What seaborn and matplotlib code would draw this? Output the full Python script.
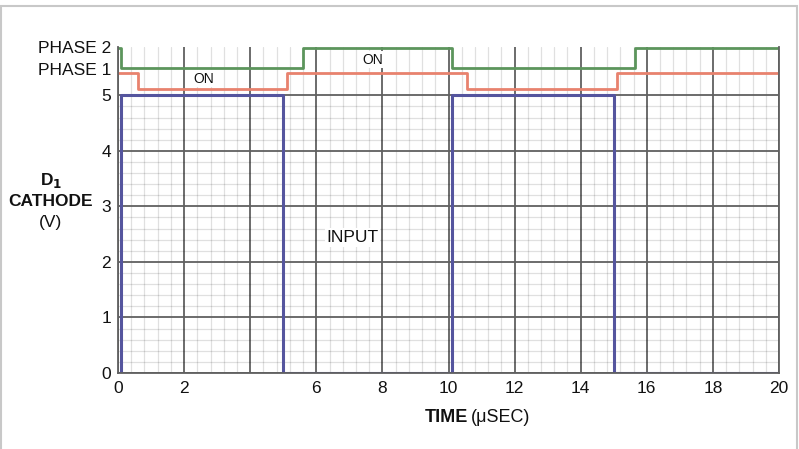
import matplotlib
matplotlib.use("Agg")
import matplotlib.pyplot as plt
import matplotlib.patches as mpatches
from matplotlib.ticker import FixedLocator, MultipleLocator
import seaborn as sns
import pandas as pd

# ---- data ----
input_t = [0, 0.1, 5.0, 10.1, 15.0, 20]
input_v = [0, 5, 0, 5, 0, 0]

phase1_t = [0, 0.6, 5.1, 10.55, 15.1, 20]
phase1_v = [5.41, 5.11, 5.41, 5.11, 5.41, 5.41]

phase2_t = [0, 0.1, 5.6, 10.1, 15.65, 20]
phase2_v = [5.85, 5.5, 5.85, 5.5, 5.85, 5.85]

x_ticks = [0, 2, 4, 6, 8, 10, 12, 14, 16, 18, 20]
x_labels = ["0", "2", "", "6", "8", "10", "12", "14", "16", "18", "20"]
y_ticks = [0, 1, 2, 3, 4, 5]

sns.set_theme(style="white")
plt.rcParams['font.family'] = ['Liberation Sans', 'DejaVu Sans']

fig = plt.figure(figsize=(7.99, 4.49), dpi=100)
# outer light frame
fig.patches.append(mpatches.Rectangle((1/799, -0.01), 796/799, 1 - 6/449 + 0.01,
                                      transform=fig.transFigure, fill=False,
                                      edgecolor="#c8c8c8", linewidth=1.5))
ax = fig.add_axes([118/799, 1 - 373/449, (779 - 118)/799, (373 - 47)/449])

ax.set_xlim(0, 20)
ax.set_ylim(0, 5.87)

# grid
ax.xaxis.set_major_locator(FixedLocator(x_ticks))
ax.xaxis.set_minor_locator(MultipleLocator(0.4))
ax.yaxis.set_major_locator(FixedLocator(y_ticks))
ax.yaxis.set_minor_locator(FixedLocator([i * 0.2 for i in range(26) if i % 5]))
ax.grid(which="major", axis="both", color="#606060", linewidth=1.3)
ax.grid(which="minor", axis="both", color="black", alpha=0.12, linewidth=0.9)
ax.set_axisbelow(True)

df_in = pd.DataFrame({"t": input_t, "v": input_v})
df_p1 = pd.DataFrame({"t": phase1_t, "v": phase1_v})
df_p2 = pd.DataFrame({"t": phase2_t, "v": phase2_v})

sns.lineplot(data=df_p2, x="t", y="v", ax=ax, color="#5c955c", linewidth=2,
             drawstyle="steps-post", estimator=None, sort=False)
sns.lineplot(data=df_p1, x="t", y="v", ax=ax, color="#e8826e", linewidth=2,
             drawstyle="steps-post", estimator=None, sort=False)
sns.lineplot(data=df_in, x="t", y="v", ax=ax, color="#55559e", linewidth=2.2,
             drawstyle="steps-post", estimator=None, sort=False)

# ticks
ax.set_xticklabels(x_labels)
ax.set_yticklabels([str(t) for t in y_ticks])
ax.tick_params(axis="both", which="both", length=0, labelsize=12.5, colors="#111111")
ax.tick_params(axis="x", pad=6)
ax.tick_params(axis="y", pad=5)
ax.set_xlabel("")
ax.set_ylabel("")

for s in ["left", "bottom", "right"]:
    ax.spines[s].set_color("#606060")
    ax.spines[s].set_linewidth(1.3)
ax.spines["top"].set_visible(False)

# phase labels
ax.text(-0.2, 5.85, "PHASE 2", ha="right", va="center", fontsize=12.5, color="#111111")
ax.text(-0.2, 5.45, "PHASE 1", ha="right", va="center", fontsize=12.5, color="#111111")

# on labels
box = dict(boxstyle="square,pad=0.1", facecolor="white", edgecolor="none")
ax.text(2.6, 5.30, "ON", ha="center", va="center", fontsize=10, color="#111111", bbox=box)
ax.text(7.7, 5.64, "ON", ha="center", va="center", fontsize=10, color="#111111", bbox=box)
ax.text(7.1, 2.44, "INPUT", ha="center", va="center", fontsize=12.5, color="#111111",
        bbox=dict(boxstyle="square,pad=0.1", facecolor="white", edgecolor="none"))

# axis titles
fig.text(51/799, 1 - 181/449, "D$_\\mathbf{1}$", ha="center", va="center",
         fontsize=12.5, fontweight="bold", color="#111111")
fig.text(51/799, 1 - 201/449, "CATHODE", ha="center", va="center",
         fontsize=12.5, fontweight="bold", color="#111111")
fig.text(51/799, 1 - 222/449, "(V)", ha="center", va="center",
         fontsize=12.5, color="#111111")

fig.text(468/799, 1 - 417/449, "TIME", ha="right", va="center",
         fontsize=13, fontweight="bold", color="#111111")
fig.text(471/799, 1 - 417/449, "(μSEC)", ha="left", va="center",
         fontsize=13, color="#111111")

fig.savefig("out.png", dpi=100, facecolor="white")
